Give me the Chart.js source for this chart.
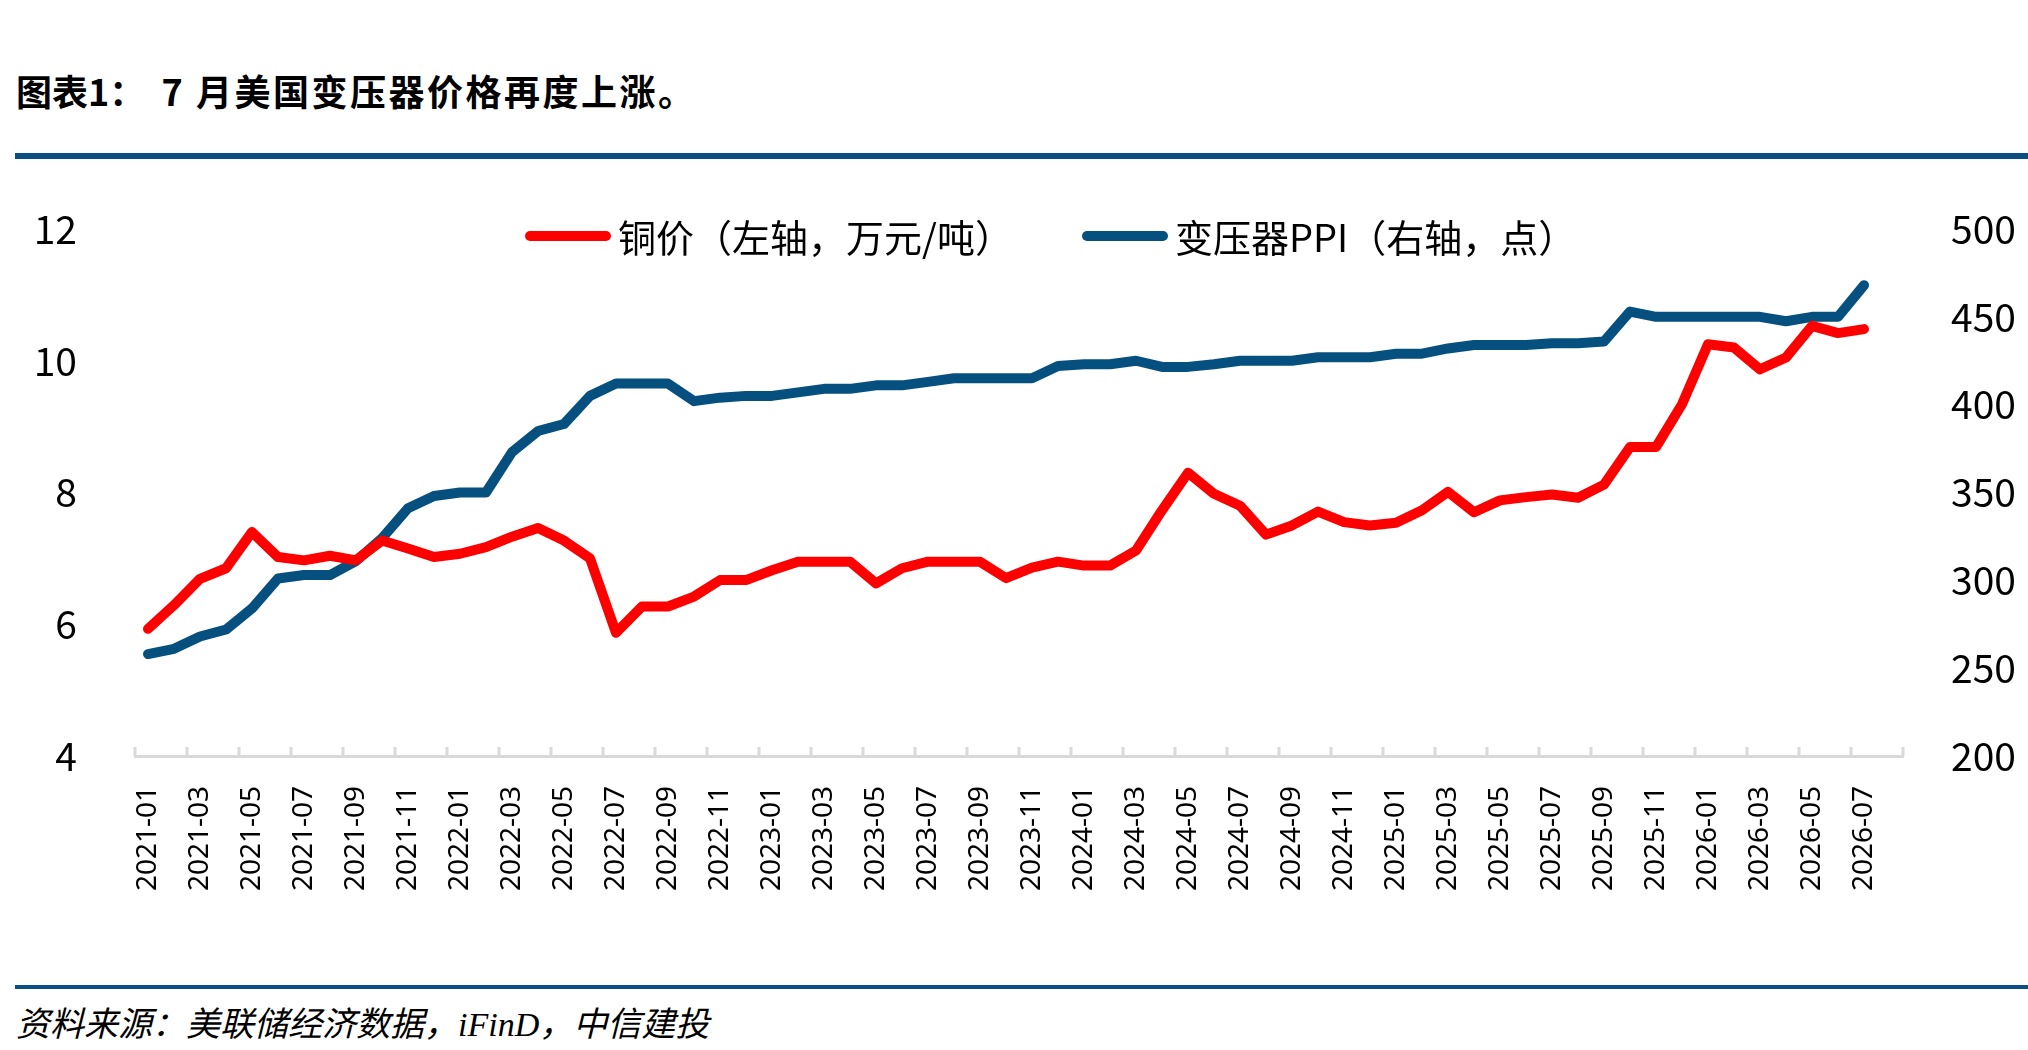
<!DOCTYPE html>
<html>
<head>
<meta charset="utf-8">
<script src="https://cdn.jsdelivr.net/npm/chart.js@4.4.1/dist/chart.umd.min.js"></script>
<style>
  body { margin: 0; width: 2028px; height: 1050px; background: #fff; position: relative; overflow: hidden; font-family: "Noto Sans CJK SC", "Noto Sans", sans-serif; }
  #title { position: absolute; left: 16px; top: 70px; font-size: 36px; line-height: 40px; font-weight: bold; color: #000; white-space: pre; }
  #title .resto { letter-spacing: 2.5px; }
  #ruleTop { position: absolute; left: 15px; right: 0; top: 153px; height: 6px; background: #0a4f82; }
  #ruleBottom { position: absolute; left: 15px; right: 0; top: 985px; height: 4px; background: #0a4f82; }
  #source { position: absolute; left: 16px; top: 1005px; font-size: 34px; line-height: 40px; font-style: italic; color: #000; font-family: "Liberation Serif", "Noto Sans CJK SC", serif; }
  #chartBox { position: absolute; left: 0; top: 0; width: 2028px; height: 1050px; }
  .leyenda { position: absolute; top: 216px; height: 40px; display: flex; align-items: center; font-size: 38px; line-height: 40px; color: #000; white-space: nowrap; }
  .leyenda .linea { display: inline-block; width: 86px; height: 10px; border-radius: 5px; margin-right: 7px; }
</style>
</head>
<body>
<div id="title">图表1：  <span class="resto">7 月美国变压器价格再度上涨。</span></div>
<div id="ruleTop"></div>
<div id="ruleBottom"></div>
<div id="source">资料来源：美联储经济数据，iFinD，中信建投</div>
<div id="chartBox"><canvas id="myChart" width="2028" height="1050"></canvas></div>

<script>
// months on the x axis (last slot is empty, like the original axis)
var meses = ['2021-01','2021-02','2021-03','2021-04','2021-05','2021-06','2021-07','2021-08','2021-09','2021-10','2021-11','2021-12',
             '2022-01','2022-02','2022-03','2022-04','2022-05','2022-06','2022-07','2022-08','2022-09','2022-10','2022-11','2022-12',
             '2023-01','2023-02','2023-03','2023-04','2023-05','2023-06','2023-07','2023-08','2023-09','2023-10','2023-11','2023-12',
             '2024-01','2024-02','2024-03','2024-04','2024-05','2024-06','2024-07','2024-08','2024-09','2024-10','2024-11','2024-12',
             '2025-01','2025-02','2025-03','2025-04','2025-05','2025-06','2025-07','2025-08','2025-09','2025-10','2025-11','2025-12',
             '2026-01','2026-02','2026-03','2026-04','2026-05','2026-06','2026-07','2026-08'];

// 铜价 (万元/吨), left axis
var tongJia = [5.93, 6.29, 6.69, 6.85, 7.40, 7.02, 6.97, 7.04, 6.97, 7.27,
               7.15, 7.02, 7.07, 7.17, 7.33, 7.46, 7.27, 7.00, 5.87, 6.27,
               6.27, 6.42, 6.67, 6.67, 6.82, 6.95, 6.95, 6.95, 6.62, 6.85,
               6.95, 6.95, 6.95, 6.70, 6.86, 6.95, 6.89, 6.89, 7.12, 7.73,
               8.30, 7.98, 7.80, 7.36, 7.50, 7.71, 7.55, 7.50, 7.54, 7.73,
               8.01, 7.70, 7.88, 7.93, 7.97, 7.92, 8.12, 8.69, 8.69, 9.34,
               10.25, 10.20, 9.87, 10.05, 10.53, 10.42, 10.48];

// 变压器PPI (点), right axis
var ppi = [258, 261, 268, 272, 284, 301, 303, 303, 311, 324,
           341, 348, 350, 350, 373, 385, 389, 405, 412, 412,
           412, 402, 404, 405, 405, 407, 409, 409, 411, 411,
           413, 415, 415, 415, 415, 422, 423, 423, 425, 421.5,
           421.5, 423, 425, 425, 425, 427, 427, 427, 429, 429,
           432, 434, 434, 434, 435, 435, 436, 453, 450, 450,
           450, 450, 450, 447.5, 450, 450, 468];

var ticksIzq = [4, 6, 8, 10, 12];
var ticksDer = [200, 250, 300, 350, 400, 450, 500];

var rojo = '#ff0000';
var azul = '#05507e';

// where each legend entry starts
var leyendaX = [525, 1082];

Chart.defaults.font.family = '"Noto Sans CJK SC", "Noto Sans", sans-serif';
Chart.defaults.color = '#000';

// short ticks pointing up from the x axis, every 2 months
var marcasX = {
    id: 'marcasX',
    afterDatasetsDraw: function(chart) {
        var xs = chart.scales.x;
        var ctx = chart.ctx;
        ctx.save();
        ctx.strokeStyle = '#d9d9d9';
        ctx.lineWidth = 3;
        ctx.beginPath();
        for (var k = 0; k <= meses.length; k += 2) {
            var px = Math.round(xs.getPixelForValue(k - 0.5));
            ctx.moveTo(px, xs.top);
            ctx.lineTo(px, xs.top - 9);
        }
        ctx.stroke();
        ctx.restore();
    }
};

var canvas = document.getElementById('myChart').getContext('2d');
var chart = new Chart(canvas, {
    type: 'line',
    data: {
        labels: meses,
        datasets: [{
            label: '铜价（左轴，万元/吨）',
            data: tongJia,
            yAxisID: 'yIzq',
            borderColor: rojo,
            backgroundColor: rojo,
            borderWidth: 10,
            pointRadius: 0,
            borderCapStyle: 'round',
            borderJoinStyle: 'round',
            tension: 0
        }, {
            label: '变压器PPI（右轴，点）',
            data: ppi,
            yAxisID: 'yDer',
            borderColor: azul,
            backgroundColor: azul,
            borderWidth: 10,
            pointRadius: 0,
            borderCapStyle: 'round',
            borderJoinStyle: 'round',
            tension: 0
        }]
    },
    options: {
        responsive: false,
        animation: false,
        layout: { padding: { top: 229, left: 0, right: 0, bottom: 0 } },
        plugins: {
            legend: { display: false },
            tooltip: { enabled: false }
        },
        scales: {
            x: {
                type: 'category',
                offset: true,
                afterFit: function(s) { s.height = 294; },
                grid: { display: false, offset: true },
                border: { display: true, color: '#d9d9d9', width: 3 },
                ticks: {
                    autoSkip: false,
                    maxRotation: 90,
                    minRotation: 90,
                    padding: 22,
                    font: { size: 28, family: '"Noto Sans", sans-serif' },
                    callback: function(val, i) {
                        return i % 2 === 0 && i < meses.length - 1 ? meses[i] : '';
                    }
                }
            },
            yIzq: {
                position: 'left',
                min: 4,
                max: 12,
                afterFit: function(s) { s.width = 135; },
                afterBuildTicks: function(s) { s.ticks = ticksIzq.map(function(v) { return { value: v }; }); },
                grid: { display: false },
                border: { display: false },
                ticks: { padding: 50, font: { size: 39 } }
            },
            yDer: {
                position: 'right',
                min: 200,
                max: 500,
                afterFit: function(s) { s.width = 125; },
                afterBuildTicks: function(s) { s.ticks = ticksDer.map(function(v) { return { value: v }; }); },
                grid: { display: false },
                border: { display: false },
                ticks: { padding: 40, font: { size: 39 } }
            }
        }
    },
    plugins: [marcasX]
});

// legend built from the chart's own legend items
var items = chart.options.plugins.legend.labels.generateLabels(chart);
items.forEach(function(it, i) {
    var d = document.createElement('div');
    d.className = 'leyenda';
    d.style.left = leyendaX[i] + 'px';
    var l = document.createElement('span');
    l.className = 'linea';
    l.style.background = it.strokeStyle;
    d.appendChild(l);
    d.appendChild(document.createTextNode(it.text));
    document.body.appendChild(d);
});
</script>
</body>
</html>
